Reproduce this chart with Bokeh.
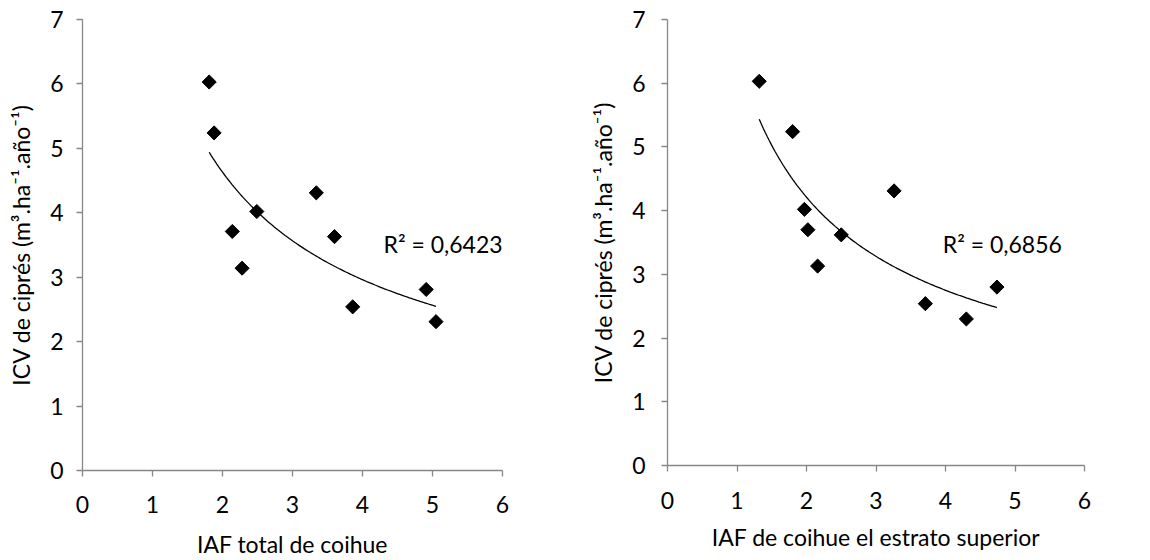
import numpy as np
from bokeh.plotting import figure
from bokeh.models import Range1d, FixedTicker
from bokeh.layouts import row
from bokeh.core.properties import value
from bokeh.embed import file_html
from bokeh.resources import INLINE

# IAF total de coihue vs ICV de ciprés
iaf_total = [1.81, 1.88, 2.14, 2.28, 2.49, 3.34, 3.60, 3.86, 4.91, 5.05]
icv_total = [6.03, 5.24, 3.71, 3.14, 4.02, 4.31, 3.63, 2.54, 2.81, 2.31]

# IAF de coihue (estrato superior) vs ICV de ciprés
iaf_sup = [1.32, 1.80, 1.97, 2.02, 2.16, 2.50, 3.26, 3.71, 4.30, 4.74]
icv_sup = [6.03, 5.24, 4.02, 3.70, 3.13, 3.62, 4.31, 2.54, 2.30, 2.80]

r2_total = "R² = 0,6423"
r2_sup = "R² = 0,6856"

x_ticks = [0, 1, 2, 3, 4, 5, 6]
y_ticks = [0, 1, 2, 3, 4, 5, 6, 7]

y_title = "ICV de ciprés (m³.ha⁻¹.año⁻¹)"
x_title_total = "IAF total de coihue"
x_title_sup = "IAF de coihue el estrato superior"

FONT = "Lato"
FS = "23px"
AXIS_GREY = "#878787"


def power_fit(x, y):
    """Least squares on log-log scale: y = a * x^b."""
    b, ln_a = np.polyfit(np.log(x), np.log(y), 1)
    xs = np.linspace(min(x), max(x), 120)
    return xs, np.exp(ln_a) * xs ** b


def make_panel(x, y, xlabel, r2, r2_pos, borders, frame, lab_standoff):
    left, right, top, bottom = borders
    fw, fh = frame
    p = figure(
        frame_width=fw, frame_height=fh,
        min_border_left=left, min_border_right=right,
        min_border_top=top, min_border_bottom=bottom,
        x_range=Range1d(0, 6), y_range=Range1d(0, 7),
        output_backend="svg", toolbar_location=None,
        background_fill_color="white", border_fill_color="white",
    )
    p.outline_line_color = None
    p.grid.visible = False

    for ax, ticks in ((p.xaxis, x_ticks), (p.yaxis, y_ticks)):
        ax.ticker = FixedTicker(ticks=ticks)
        ax.minor_tick_line_color = None
        ax.major_tick_in = 0
        ax.major_tick_out = 6
        ax.axis_line_color = AXIS_GREY
        ax.major_tick_line_color = AXIS_GREY
        ax.axis_line_width = 1.3
        ax.major_tick_line_width = 1.3
        ax.major_label_text_font = FONT
        ax.major_label_text_font_size = FS
        ax.major_label_text_color = "black"
        ax.axis_label_text_font = FONT
        ax.axis_label_text_font_size = FS
        ax.axis_label_text_font_style = "normal"
        ax.axis_label_text_color = "black"

    p.xaxis.axis_label = xlabel
    p.yaxis.axis_label = y_title
    p.yaxis.major_label_standoff = lab_standoff[0]
    p.xaxis.major_label_standoff = lab_standoff[1]
    p.yaxis.axis_label_standoff = lab_standoff[2]
    p.xaxis.axis_label_standoff = lab_standoff[3]

    xs, ys = power_fit(x, y)
    p.line(xs, ys, line_color="black", line_width=1.3)

    p.scatter(x, y, marker="square", angle=np.pi / 4, size=10,
              fill_color="black", line_color="black")

    p.text(x=[r2_pos[0]], y=[r2_pos[1]], text=[r2],
           text_font=value(FONT), text_font_size=FS, text_color="black",
           text_align="left", text_baseline="middle")
    return p


p1 = make_panel(iaf_total, icv_total, x_title_total, r2_total, (4.30, 3.52),
                (82, 73, 19, 90), (420, 451), (13, 19, 12, 14))
p2 = make_panel(iaf_sup, icv_sup, x_title_sup, r2_sup, (3.96, 3.47),
                (92, 66, 19, 95), (417, 446), (16, 20, 12, 11))

layout = row(p1, p2)
open("out.html", "w").write(file_html(layout, INLINE))
